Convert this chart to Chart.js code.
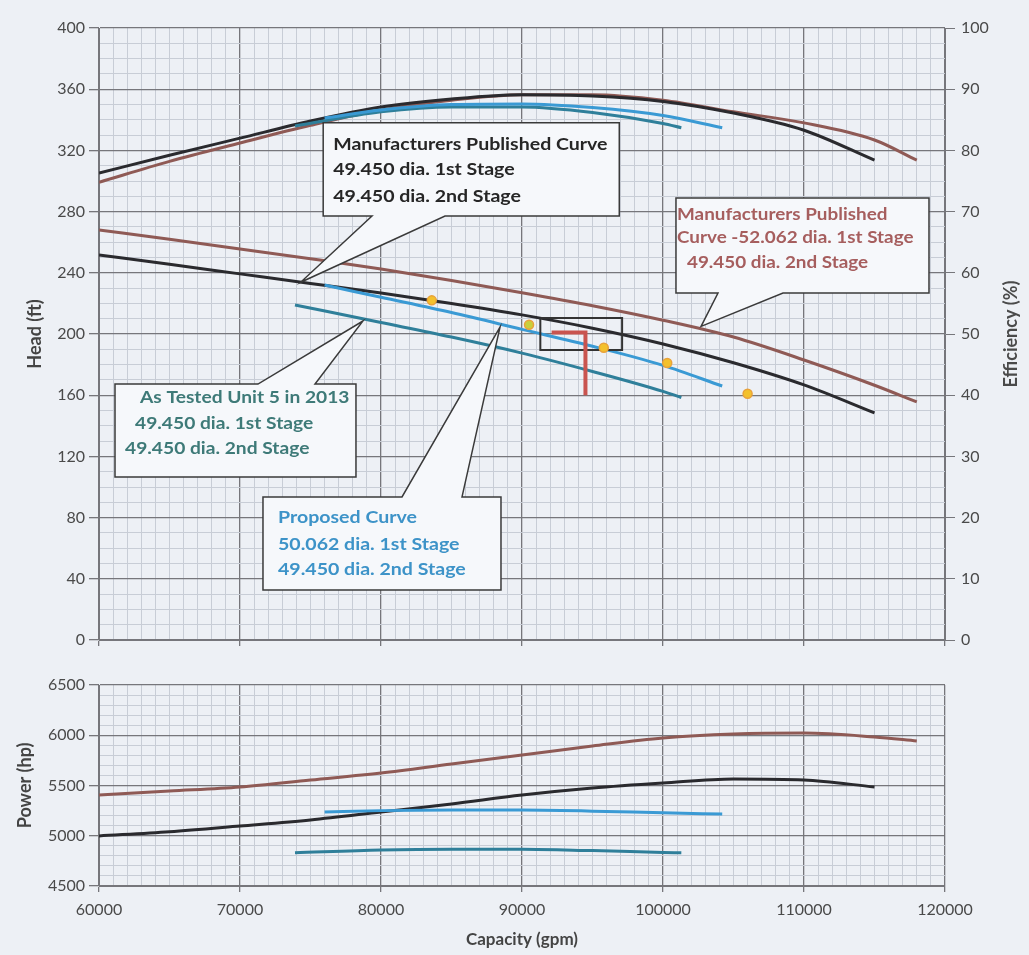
<!DOCTYPE html>
<html>
<head>
<meta charset="utf-8">
<script src="https://cdn.jsdelivr.net/npm/chart.js@4.4.1/dist/chart.umd.min.js"></script>
<style>
  body { margin: 0; background: #edf0f5; }
  #wrap { position: relative; width: 1029px; height: 955px; }
  canvas { position: absolute; left: 0; }
  #headChart { top: 0; }
  #powerChart { top: 655px; }
</style>
</head>
<body>
<div id="wrap">
  <canvas id="headChart" width="1029" height="660"></canvas>
  <canvas id="powerChart" width="1029" height="300"></canvas>
</div>
<script>
  // manufacturers curve, 49.450 / 49.450
  const capMfr49 = [60000, 65000, 70000, 75000, 80000, 85000, 90000, 95000, 100000, 105000, 110000, 115000];
  const headMfr49 = [251.6, 245.6, 239.3, 233, 226.8, 220, 212.5, 203.8, 193.5, 181.2, 166.7, 148.4];
  const effMfr49 = [76.3, 79.2, 82.0, 84.8, 87.1, 88.4, 89.1, 88.9, 88.0, 86.1, 83.3, 78.4];
  const powerMfr49 = [4998, 5040, 5097, 5157, 5236, 5316, 5405, 5475, 5525, 5565, 5555, 5485];

  // manufacturers curve, 52.062 / 49.450
  const capMfr52 = [60000, 65000, 70000, 75000, 80000, 85000, 90000, 95000, 100000, 105000, 110000, 115000, 118000];
  const headMfr52 = [268, 262, 255.6, 249.2, 242.5, 235, 227, 218.5, 209, 198, 183, 166.5, 155.6];
  const effMfr52 = [74.8, 78.2, 81.2, 84.1, 86.6, 88.2, 89.1, 89.1, 88.2, 86.3, 84.5, 81.7, 78.4];
  const powerMfr52 = [5405, 5445, 5485, 5555, 5624, 5714, 5803, 5893, 5973, 6012, 6022, 5983, 5943];

  // proposed curve, 50.062 / 49.450
  const capProposed = [76000, 80000, 85000, 90000, 95000, 100000, 104200];
  const headProposed = [232, 224, 214, 203, 192, 179.5, 166];
  const effProposed = [85.3, 86.6, 87.5, 87.6, 87.0, 85.7, 83.7];
  const powerProposed = [5236, 5250, 5256, 5255, 5245, 5228, 5216];

  // as tested unit 5 in 2013
  const capTested = [73900, 80000, 85000, 90000, 95000, 100000, 101300];
  const headTested = [219, 207.5, 198, 187.5, 175.5, 162.5, 158.5];
  const effTested = [84.0, 86.3, 87.1, 87.1, 86.2, 84.4, 83.7];
  const powerTested = [4830, 4858, 4866, 4866, 4852, 4834, 4830];

  // test points
  const testCap = [83600, 90500, 95800, 100300, 106000];
  const testHead = [222, 206, 191, 181, 161];

  // red operating mark and black box
  const markCap = [92100, 94500, 94500];
  const markHead = [201, 201, 160];
  const boxCap = [91300, 97100, 97100, 91300, 91300];
  const boxHead = [210.5, 210.5, 189.5, 189.5, 210.5];

  // tick labels
  const capTicks = [60000, 70000, 80000, 90000, 100000, 110000, 120000];
  const headTicks = [0, 40, 80, 120, 160, 200, 240, 280, 320, 360, 400];
  const effTicks = [0, 10, 20, 30, 40, 50, 60, 70, 80, 90, 100];
  const powerTicks = [4500, 5000, 5500, 6000, 6500];

  const pts = (xs, ys) => xs.map((x, i) => ({ x: x, y: ys[i] }));

  const BLACK = "#2a2a2e";
  const BROWN = "#8f5a55";
  const BLUE = "#3a9ad4";
  const TEAL = "#2f7f9a";
  const MAJOR = "#76767b";
  const MINOR = "#c8cdd6";

  Chart.defaults.font.family = "Lato";
  Chart.defaults.color = "#4a4a4a";

  function grid(list) {
    return {
      color: (c) => (c.tick && list.includes(c.tick.value) ? MAJOR : MINOR),
      tickColor: (c) => (c.tick && list.includes(c.tick.value) ? MAJOR : "rgba(0,0,0,0)"),
      lineWidth: (c) => (c.tick && list.includes(c.tick.value) ? 1.3 : 1),
      tickLength: 10,
    };
  }

  function curve(data, color, axis) {
    return {
      data: data,
      borderColor: color,
      borderWidth: 3,
      pointRadius: 0,
      showLine: true,
      cubicInterpolationMode: "monotone",
      yAxisID: axis || "y",
    };
  }

  const calloutPlugin = {
    id: "callouts",
    afterDatasetsDraw(chart, args, opts) {
      const ctx = chart.ctx;
      const x = chart.scales.x;
      const y = chart.scales.y;
      (opts.items || []).forEach((c) => {
        const l = x.getPixelForValue(c.box[0]);
        const r = x.getPixelForValue(c.box[1]);
        const t = y.getPixelForValue(c.box[2]);
        const b = y.getPixelForValue(c.box[3]);
        const b1 = x.getPixelForValue(c.base[0]);
        const b2 = x.getPixelForValue(c.base[1]);
        const tx = x.getPixelForValue(c.tip[0]);
        const ty = y.getPixelForValue(c.tip[1]);
        ctx.save();
        ctx.beginPath();
        if (c.side === "bottom") {
          ctx.moveTo(l, t); ctx.lineTo(r, t); ctx.lineTo(r, b);
          ctx.lineTo(b2, b); ctx.lineTo(tx, ty); ctx.lineTo(b1, b);
          ctx.lineTo(l, b);
        } else {
          ctx.moveTo(l, t); ctx.lineTo(b1, t); ctx.lineTo(tx, ty);
          ctx.lineTo(b2, t); ctx.lineTo(r, t); ctx.lineTo(r, b);
          ctx.lineTo(l, b);
        }
        ctx.closePath();
        ctx.fillStyle = "#f6f8fb";
        ctx.fill();
        ctx.strokeStyle = "#3a3a3a";
        ctx.lineWidth = 1.5;
        ctx.stroke();
        ctx.fillStyle = c.color;
        ctx.font = "bold 17px Lato";
        ctx.textBaseline = "middle";
        c.lines.forEach((s, i) => {
          ctx.save();
          ctx.translate(l + c.indent[i], t + c.rows[i]);
          ctx.scale(c.stretch, 1);
          ctx.fillText(s, 0, 0);
          ctx.restore();
        });
        ctx.restore();
      });
    },
  };

  const effTitlePlugin = {
    id: "effTitle",
    afterDraw(chart) {
      const ctx = chart.ctx;
      const area = chart.chartArea;
      ctx.save();
      ctx.translate(1011, (area.top + area.bottom) / 2);
      ctx.rotate(-Math.PI / 2);
      ctx.font = "bold 18px Lato";
      ctx.fillStyle = "#4a4a4a";
      ctx.textAlign = "center";
      ctx.textBaseline = "middle";
      ctx.fillText("Efficiency (%)", 0, 0);
      ctx.restore();
    },
  };

  new Chart(document.getElementById("headChart"), {
    type: "scatter",
    data: {
      datasets: [
        {
          data: pts(testCap, testHead),
          pointRadius: 4.5,
          pointBackgroundColor: ["#f3c12c", "#c9cf3c", "#f3c12c", "#f3c12c", "#f3c12c"],
          pointBorderColor: "#e9a23a",
          pointBorderWidth: 1.5,
        },
        { data: pts(markCap, markHead), borderColor: "#c9544f", borderWidth: 4, pointRadius: 0, showLine: true, tension: 0 },
        { data: pts(boxCap, boxHead), borderColor: "#333", borderWidth: 2, pointRadius: 0, showLine: true, tension: 0 },
        curve(pts(capProposed, headProposed), BLUE),
        curve(pts(capTested, headTested), TEAL),
        curve(pts(capMfr49, headMfr49), BLACK),
        curve(pts(capMfr52, headMfr52), BROWN),
        curve(pts(capProposed, effProposed), BLUE, "y2"),
        curve(pts(capTested, effTested), TEAL, "y2"),
        curve(pts(capMfr49, effMfr49), BLACK, "y2"),
        curve(pts(capMfr52, effMfr52), BROWN, "y2"),
      ],
    },
    options: {
      responsive: false,
      animation: false,
      layout: { padding: { left: 22, right: 12, top: 28, bottom: 0 } },
      plugins: {
        legend: { display: false },
        tooltip: { enabled: false },
        callouts: {
          items: [
            {
              box: [75900, 96900, 338, 277.1], side: "bottom",
              base: [79360, 84540], tip: [74300, 233.8],
              color: "#262626", stretch: 1.15,
              lines: ["Manufacturers Published Curve", "49.450 dia. 1st Stage", "49.450 dia. 2nd Stage"],
              indent: [10, 10, 10], rows: [22, 47, 74],
            },
            {
              box: [100920, 118865, 288.9, 226.8], side: "bottom",
              base: [103900, 108510], tip: [102700, 205],
              color: "#a65e5e", stretch: 1.11,
              lines: ["Manufacturers Published", "Curve -52.062 dia. 1st Stage", "49.450 dia. 2nd Stage"],
              indent: [1, 1, 11], rows: [17, 40, 65],
            },
            {
              box: [61135, 78225, 167.3, 106.5], side: "top",
              base: [71275, 75320], tip: [78720, 208.5],
              color: "#3e7a78", stretch: 1.13,
              lines: ["As Tested Unit 5 in 2013", "49.450 dia. 1st Stage", "49.450 dia. 2nd Stage"],
              indent: [25, 20, 10], rows: [13, 39, 64],
            },
            {
              box: [71630, 88510, 93.5, 32.7], side: "top",
              base: [81490, 85745], tip: [88440, 204.5],
              color: "#3d93c8", stretch: 1.15,
              lines: ["Proposed Curve", "50.062 dia. 1st Stage", "49.450 dia. 2nd Stage"],
              indent: [15, 15, 15], rows: [21, 48, 73],
            },
          ],
        },
      },
      scales: {
        x: {
          type: "linear",
          min: 60000,
          max: 120000,
          ticks: { stepSize: 1000, display: false, autoSkip: false, maxTicksLimit: 1000 },
          grid: Object.assign(grid(capTicks), { tickLength: 6 }),
          border: { color: MAJOR },
          afterFit: (s) => { s.height = 20; },
        },
        y: {
          position: "left",
          min: 0,
          max: 400,
          ticks: {
            stepSize: 10,
            autoSkip: false,
            maxTicksLimit: 1000,
            padding: 4,
            font: { size: 16 },
            callback: (v) => (headTicks.includes(v) ? String(v) : ""),
          },
          grid: grid(headTicks),
          border: { color: MAJOR },
          title: { display: true, text: "Head (ft)", font: { size: 18, weight: "bold" }, color: "#444", padding: { top: 2, bottom: 4 } },
          afterFit: (s) => { s.width = 77; },
        },
        y2: {
          position: "right",
          min: 0,
          max: 100,
          ticks: {
            stepSize: 10,
            autoSkip: false,
            padding: 6,
            font: { size: 16 },
            callback: (v) => (effTicks.includes(v) ? String(v) : ""),
          },
          grid: { drawOnChartArea: false, color: MAJOR, tickLength: 10 },
          border: { color: MAJOR },
          afterFit: (s) => { s.width = 72; },
        },
      },
    },
    plugins: [calloutPlugin, effTitlePlugin],
  });

  new Chart(document.getElementById("powerChart"), {
    type: "scatter",
    data: {
      datasets: [
        curve(pts(capProposed, powerProposed), BLUE),
        curve(pts(capTested, powerTested), TEAL),
        curve(pts(capMfr49, powerMfr49), BLACK),
        curve(pts(capMfr52, powerMfr52), BROWN),
      ],
    },
    options: {
      responsive: false,
      animation: false,
      layout: { padding: { left: 10, right: 84, top: 30, bottom: 0 } },
      plugins: {
        legend: { display: false },
        tooltip: { enabled: false },
      },
      scales: {
        x: {
          type: "linear",
          min: 60000,
          max: 120000,
          ticks: {
            stepSize: 1000,
            autoSkip: false,
            maxTicksLimit: 1000,
            maxRotation: 0,
            padding: 8,
            font: { size: 16 },
            callback: (v) => (capTicks.includes(v) ? String(v) : ""),
          },
          grid: Object.assign(grid(capTicks), { tickLength: 6 }),
          border: { color: MAJOR },
          title: { display: true, text: "Capacity (gpm)", font: { size: 17, weight: "bold" }, color: "#444", padding: { top: 4, bottom: 5 } },
          afterFit: (s) => { s.height = 69; },
        },
        y: {
          position: "left",
          min: 4500,
          max: 6500,
          ticks: {
            stepSize: 100,
            autoSkip: false,
            maxTicksLimit: 1000,
            padding: 4,
            font: { size: 16 },
            callback: (v) => (powerTicks.includes(v) ? String(v) : ""),
          },
          grid: grid(powerTicks),
          border: { color: MAJOR },
          title: { display: true, text: "Power (hp)", font: { size: 18, weight: "bold" }, color: "#444", padding: { top: 4, bottom: 4 } },
          afterFit: (s) => { s.width = 89; },
        },
      },
    },
  });
</script>
</body>
</html>
